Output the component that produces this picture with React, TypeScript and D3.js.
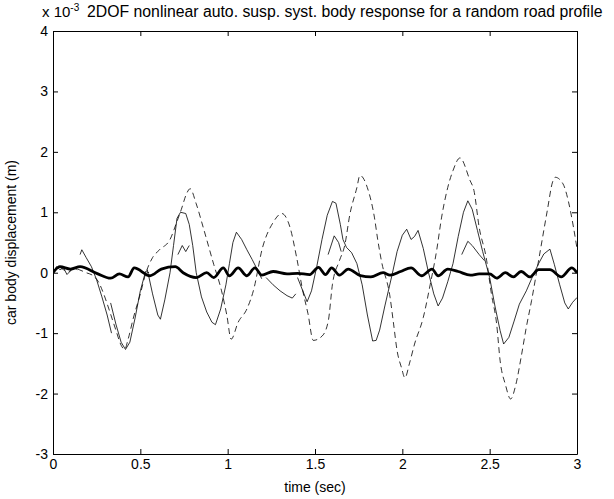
import React, { useEffect, useRef } from 'react'
import * as d3 from 'd3'

// time axis ticks (sec) and displacement ticks (x 10^-3 m)
const xTicks = [0, 0.5, 1, 1.5, 2, 2.5, 3]
const yTicks = [-3, -2, -1, 0, 1, 2, 3, 4]

// thick solid: body response (extrema)
const thickT = [0, 0.04, 0.1, 0.155, 0.25, 0.33, 0.38, 0.43, 0.465, 0.555, 0.62, 0.7, 0.745, 0.82, 0.88, 0.92, 0.975, 1.01, 1.06, 1.11, 1.156, 1.195, 1.26, 1.34, 1.4, 1.47, 1.52, 1.56, 1.595, 1.64, 1.69, 1.76, 1.82, 1.89, 1.93, 1.99, 2.05, 2.11, 2.17, 2.205, 2.26, 2.32, 2.39, 2.44, 2.5, 2.54, 2.59, 2.635, 2.68, 2.73, 2.78, 2.845, 2.91, 2.97, 3.0]
const thickV = [0, 0.1, 0.06, 0.1, -0.01, -0.09, -0.02, -0.07, 0.08, -0.05, 0.06, 0.1, 0.0, -0.08, 0.0, -0.08, 0.08, -0.05, 0.08, -0.05, 0.08, -0.04, 0.02, -0.02, -0.01, -0.03, 0.09, -0.03, 0.08, -0.04, 0.06, -0.05, -0.07, 0.0, -0.04, 0.02, 0.08, -0.05, 0.06, -0.05, 0.06, 0.02, -0.04, -0.02, -0.02, -0.09, 0.0, -0.07, 0.02, -0.07, 0.05, 0.05, -0.07, 0.08, 0.0]

// dashed: large oscillation
const dashT = [0, 0.03, 0.06, 0.09, 0.12, 0.15, 0.19, 0.23, 0.26, 0.29, 0.32, 0.36, 0.39, 0.41, 0.43, 0.46, 0.5, 0.53, 0.57, 0.61, 0.67, 0.71, 0.735, 0.765, 0.785, 0.82, 0.86, 0.92, 0.965, 0.995, 1.02, 1.06, 1.11, 1.147, 1.2, 1.26, 1.31, 1.357, 1.395, 1.43, 1.46, 1.49, 1.54, 1.576, 1.6, 1.64, 1.67, 1.7, 1.74, 1.757, 1.805, 1.84, 1.86, 1.88, 1.93, 1.95, 1.97, 1.995, 2.015, 2.04, 2.07, 2.12, 2.16, 2.196, 2.225, 2.26, 2.29, 2.33, 2.387, 2.41, 2.44, 2.48, 2.51, 2.54, 2.56, 2.59, 2.62, 2.65, 2.68, 2.71, 2.74, 2.78, 2.83, 2.86, 2.875, 2.92, 2.95, 2.98, 3.0]
const dashV = [0, 0.1, 0.05, 0.02, 0.08, 0.05, 0.0, -0.05, -0.15, -0.35, -0.6, -0.95, -1.2, -1.27, -1.1, -0.75, -0.35, -0.02, 0.25, 0.38, 0.55, 0.85, 1.05, 1.31, 1.39, 1.14, 0.75, 0.14, -0.3, -0.7, -1.1, -0.82, -0.6, -0.3, 0.42, 0.83, 0.98, 0.75, 0.25, -0.3, -0.68, -1.12, -1.05, -0.8, -0.19, 0.2, 0.45, 0.97, 1.41, 1.61, 1.36, 0.92, 0.53, 0.2, -0.41, -0.85, -1.29, -1.57, -1.74, -1.51, -1.18, -0.74, -0.19, 0.36, 0.92, 1.41, 1.69, 1.9, 1.53, 1.36, 0.75, 0.25, -0.35, -0.85, -1.46, -1.85, -2.09, -1.85, -1.4, -0.9, -0.46, 0.2, 1.03, 1.5, 1.58, 1.47, 1.19, 0.75, 0.4]

// thin solid: broken pieces, NaN marks a break
const thinT = [0, 0.02, 0.04, 0.06, 0.08, 0.1, 0.12, 0.14, NaN,
  0.155, 0.165, 0.19, 0.22, 0.25, 0.28, 0.31, 0.335, NaN,
  0.33, 0.36, 0.39, 0.415, 0.44, 0.47, 0.5, 0.53, 0.55, NaN,
  0.54, 0.57, 0.6, 0.615, 0.64, 0.67, 0.69, 0.71, 0.73, 0.76, 0.78, 0.8, 0.82, 0.85, 0.88, 0.91, 0.93, 0.96, 0.99, 1.01, 1.03, 1.05, 1.08, 1.11, 1.14, 1.17, 1.195, NaN,
  0.715, 0.74, 0.76, 0.78, NaN,
  1.22, 1.26, 1.3, 1.34, 1.37, 1.39, NaN,
  1.4, 1.43, 1.455, 1.48, 1.51, 1.54, 1.57, 1.6, 1.62, 1.645, 1.66, 1.68, 1.71, 1.74, 1.77, 1.8, 1.83, 1.85, 1.87, 1.9, 1.94, 1.97, 2.0, 2.025, 2.05, 2.07, 2.09, 2.12, 2.15, 2.18, 2.205, 2.23, 2.26, 2.29, 2.32, 2.35, 2.375, 2.4, 2.43, 2.46, 2.5, 2.53, 2.56, 2.58, 2.61, 2.64, 2.67, 2.71, 2.74, 2.78, 2.81, 2.845, 2.87, 2.9, 2.93, 2.95, 2.975, 3.0, NaN,
  1.575, 1.61, 1.635, 1.65, NaN,
  2.34, 2.375, 2.4, 2.44, 2.47]
const thinV = [0, 0.1, 0.05, 0.08, -0.03, 0.03, 0.08, 0.05, NaN,
  0.3, 0.38, 0.25, 0.1, -0.12, -0.4, -0.7, -1.0, NaN,
  -0.5, -0.85, -1.15, -1.27, -1.15, -0.75, -0.3, 0.02, 0.0, NaN,
  0.05, -0.35, -0.7, -0.77, -0.45, 0.0, 0.45, 0.9, 1.0, 0.98, 0.8, 0.45, 0.0, -0.4, -0.65, -0.82, -0.86, -0.6, -0.2, 0.15, 0.5, 0.67, 0.55, 0.38, 0.22, 0.05, -0.1, NaN,
  0.3, 0.45, 0.35, 0.45, NaN,
  -0.08, -0.2, -0.3, -0.38, -0.42, -0.35, NaN,
  -0.08, -0.3, -0.48, -0.3, 0.1, 0.55, 0.95, 1.18, 1.15, 0.8, 0.55, 0.42, 0.33, 0.15, -0.2, -0.7, -1.13, -1.12, -0.95, -0.55, -0.05, 0.35, 0.62, 0.72, 0.55, 0.6, 0.7, 0.4, 0.0, -0.35, -0.55, -0.42, -0.15, 0.15, 0.6, 1.0, 1.19, 1.05, 0.7, 0.35, -0.08, -0.55, -0.96, -1.18, -1.07, -0.8, -0.52, -0.3, -0.1, 0.15, 0.31, 0.39, 0.14, -0.19, -0.5, -0.6, -0.49, -0.41, NaN,
  0.3, 0.61, 0.5, 0.35, NaN,
  0.3, 0.52, 0.45, 0.3, 0.2]

const W = 614
const H = 499
const margin = { left: 53, right: 37, top: 31, bottom: 45 }
const font = '"Liberation Sans", Arial, Helvetica, sans-serif'

function drawChart(el: SVGSVGElement) {
  const svg = d3.select(el)
  svg.selectAll('*').remove()

  const x = d3.scaleLinear().domain([0, 3]).range([margin.left, W - margin.right])
  const y = d3.scaleLinear().domain([-3, 4]).range([H - margin.bottom, margin.top])

  const fmt = (d: any) => String(d)

  // axes, ticks pointing in like matlab
  const bottom = svg.append('g')
    .attr('transform', 'translate(0,' + (H - margin.bottom) + ')')
    .call(d3.axisBottom(x).tickValues(xTicks).tickFormat(fmt).tickSizeInner(-5).tickSizeOuter(0).tickPadding(5))
  const top = svg.append('g')
    .attr('transform', 'translate(0,' + margin.top + ')')
    .call(d3.axisTop(x).tickValues(xTicks).tickFormat(() => '').tickSizeInner(-5).tickSizeOuter(0))
  const left = svg.append('g')
    .attr('transform', 'translate(' + margin.left + ',0)')
    .call(d3.axisLeft(y).tickValues(yTicks).tickFormat(fmt).tickSizeInner(-5).tickSizeOuter(0).tickPadding(5))
  const right = svg.append('g')
    .attr('transform', 'translate(' + (W - margin.right) + ',0)')
    .call(d3.axisRight(y).tickValues(yTicks).tickFormat(() => '').tickSizeInner(-5).tickSizeOuter(0))

  ;[bottom, top, left, right].forEach(g => {
    g.select('.domain').attr('stroke', '#000').attr('stroke-width', 1)
    g.selectAll('.tick line').attr('stroke', '#000')
    g.selectAll('.tick text').attr('fill', '#000').style('font-family', font).style('font-size', '14px')
  })

  svg.append('clipPath').attr('id', 'plotclip').append('rect')
    .attr('x', margin.left).attr('y', margin.top)
    .attr('width', W - margin.left - margin.right).attr('height', H - margin.top - margin.bottom)

  const plot = svg.append('g').attr('clip-path', 'url(#plotclip)')

  const toPts = (ts: number[], vs: number[]) => ts.map((t, i) => [t, vs[i]] as [number, number])

  const lineSmooth = d3.line<[number, number]>()
    .x(d => x(d[0])).y(d => y(d[1]))
    .curve(d3.curveMonotoneX)
  const lineBroken = d3.line<[number, number]>()
    .defined(d => !isNaN(d[0]))
    .x(d => x(d[0])).y(d => y(d[1]))

  plot.append('path')
    .attr('d', lineBroken(toPts(thinT, thinV)))
    .attr('fill', 'none').attr('stroke', '#000').attr('stroke-width', 0.8)
  plot.append('path')
    .attr('d', lineSmooth(toPts(dashT, dashV)))
    .attr('fill', 'none').attr('stroke', '#000').attr('stroke-width', 0.8)
    .attr('stroke-dasharray', '6,4')
  plot.append('path')
    .attr('d', lineSmooth(toPts(thickT, thickV)))
    .attr('fill', 'none').attr('stroke', '#000').attr('stroke-width', 2.8)

  // exponent label and title
  const expo = svg.append('text')
    .attr('x', 42).attr('y', 17)
    .style('font-family', font).style('font-size', '15px')
  expo.append('tspan').text('x 10')
  expo.append('tspan').attr('dy', -6).style('font-size', '10px').text('-3')

  svg.append('text')
    .attr('x', 87).attr('y', 17)
    .style('font-family', font).style('font-size', '15.8px')
    .text('2DOF nonlinear auto. susp. syst. body response for a random road profile')

  svg.append('text')
    .attr('x', (margin.left + W - margin.right) / 2).attr('y', H - 7)
    .attr('text-anchor', 'middle')
    .style('font-family', font).style('font-size', '14px')
    .text('time (sec)')

  svg.append('text')
    .attr('transform', 'translate(' + 16 + ',' + (margin.top + H - margin.bottom) / 2 + ') rotate(-90)')
    .attr('text-anchor', 'middle')
    .style('font-family', font).style('font-size', '14px')
    .text('car body displacement (m)')
}

const App = () => {
  const ref = useRef<SVGSVGElement>(null)
  useEffect(() => {
    if (ref.current) drawChart(ref.current)
  }, [])
  return (
    <div>
      <svg ref={ref} width={W} height={H}
        style={{ position: 'absolute', left: 0, top: 0, background: '#fff' }} />
    </div>
  )
}

export default App
